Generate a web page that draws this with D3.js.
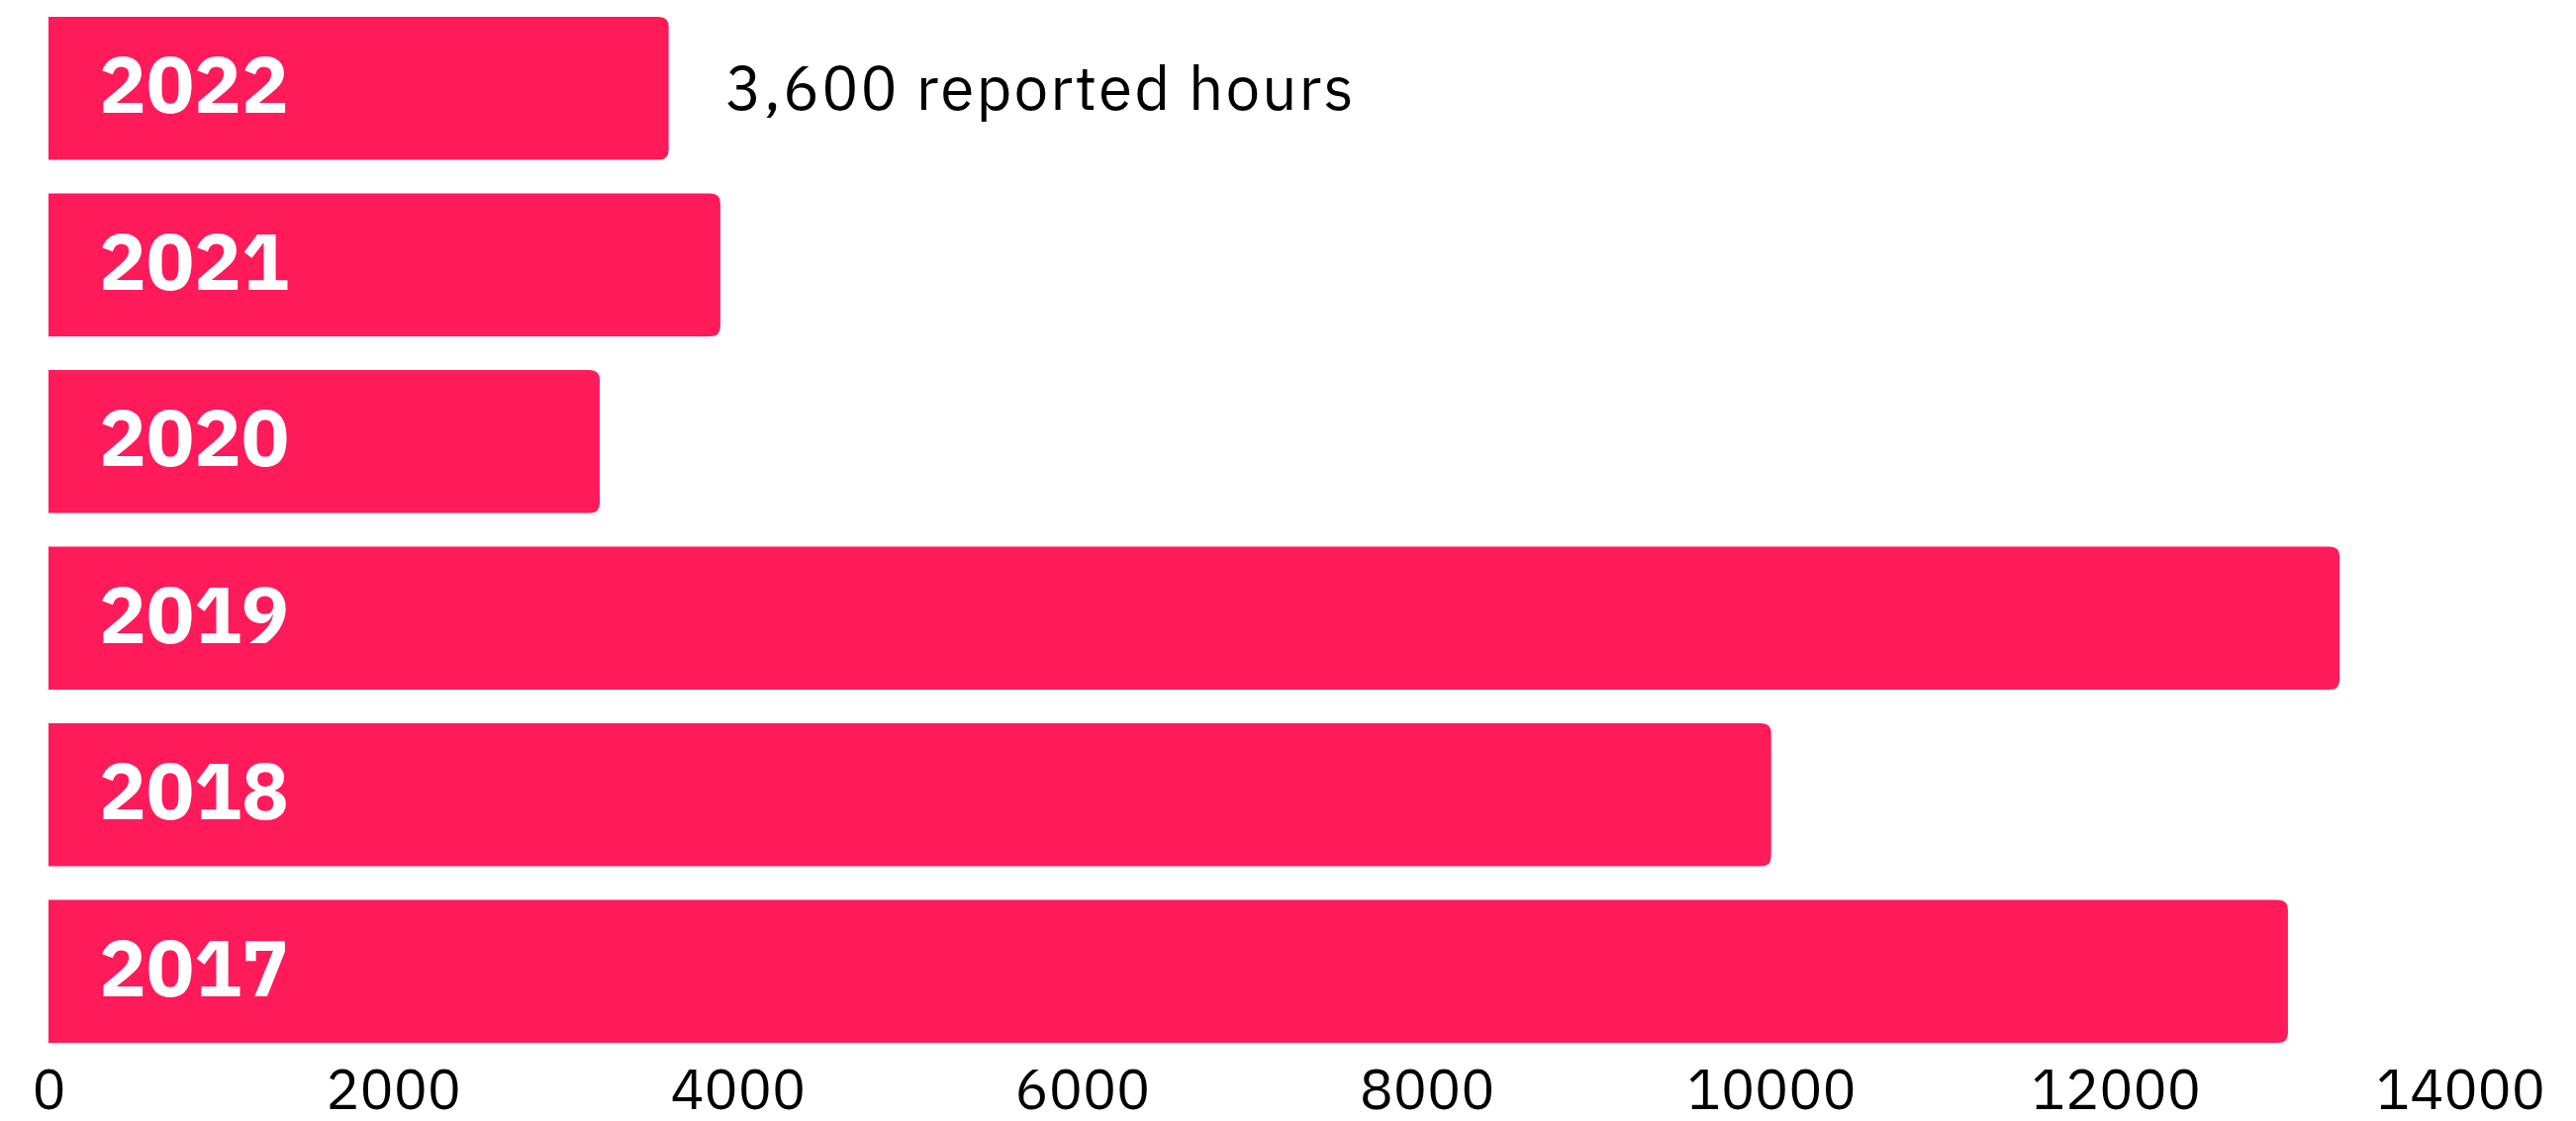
<!DOCTYPE html>
<html>
<head>
<meta charset="utf-8">
<script src="https://cdn.jsdelivr.net/npm/d3@7"></script>
<style>
  body { margin: 0; background: #fff; }
  text { font-family: "IBM Plex Sans", Roboto, "Noto Sans", sans-serif; }
</style>
</head>
<body>
<script>
// Width and height of svg
var w = 2603;
var h = 1133;

// chart data
var years = ["2022", "2021", "2020", "2019", "2018", "2017"];
var hours = [3600, 3900, 3200, 13300, 10000, 13000];
var tickValues = [0, 2000, 4000, 6000, 8000, 10000, 12000, 14000];
var annotation = "3,600 reported hours";

var barColor = "#ff1a5a";

var svg = d3.select("body")
        .append("svg")
        .attr("width", w)
        .attr("height", h);

var x = d3.scaleLinear()
        .domain([0, 14000])
        .range([49, 2486]);

var y = d3.scaleBand()
        .domain(years)
        .range([17, 1054])
        .paddingInner(0.19)
        .paddingOuter(0);

// bar with square left end and rounded right corners
function barPath(x0, x1, y0, bh, r) {
  r = Math.min(r, (x1 - x0) / 2);
  return "M" + x0 + "," + y0 +
         "H" + (x1 - r) +
         "Q" + x1 + "," + y0 + " " + x1 + "," + (y0 + r) +
         "V" + (y0 + bh - r) +
         "Q" + x1 + "," + (y0 + bh) + " " + (x1 - r) + "," + (y0 + bh) +
         "H" + x0 + "Z";
}

var rows = years.map(function(d, i) { return { year: d, value: hours[i] }; });

svg.selectAll("path.bar")
   .data(rows)
   .enter()
   .append("path")
   .attr("class", "bar")
   .attr("fill", barColor)
   .attr("d", function(d) {
     return barPath(x(0), x(d.value), y(d.year), y.bandwidth(), 10);
   });

// year labels inside the bars
svg.selectAll("text.year")
   .data(rows)
   .enter()
   .append("text")
   .attr("class", "year")
   .attr("x", x(0) + 51)
   .attr("y", function(d) { return y(d.year) + y.bandwidth() / 2 + 25; })
   .attr("fill", "#fff")
   .attr("font-size", 80)
   .attr("font-weight", "bold")
   .text(function(d) { return d.year; });

// annotation next to the first bar
svg.append("text")
   .attr("x", x(hours[0]) + 57)
   .attr("y", y(years[0]) + y.bandwidth() / 2 + 22)
   .attr("fill", "#000")
   .attr("font-size", 62)
   .attr("textLength", 635)
   .attr("lengthAdjust", "spacing")
   .text(annotation);

// bottom axis, labels only (no thousands separator)
var axis = svg.append("g")
   .attr("transform", "translate(0," + 1054 + ")")
   .call(d3.axisBottom(x)
      .tickValues(tickValues)
      .tickFormat(d3.format("d"))
      .tickSize(0)
      .tickPadding(27));

axis.select(".domain").remove();
axis.selectAll("text")
   .attr("font-size", 57)
   .attr("font-family", "\"IBM Plex Sans\", Roboto, \"Noto Sans\", sans-serif")
   .attr("fill", "#000");
</script>
</body>
</html>
